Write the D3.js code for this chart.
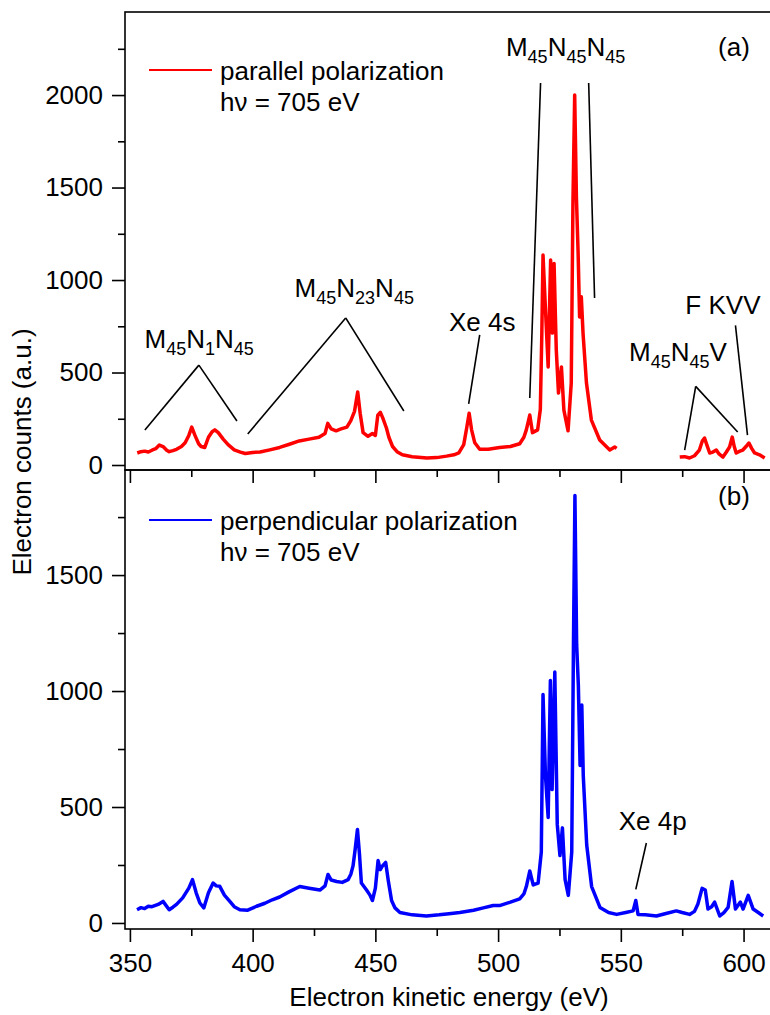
<!DOCTYPE html>
<html>
<head>
<meta charset="utf-8">
<script src="https://cdn.jsdelivr.net/npm/d3@7"></script>
<style>
body { margin: 0; background: #fff; }
svg text { font-family: "Liberation Sans", Arial, sans-serif; fill: #000; }
</style>
</head>
<body>
<svg id="chart" width="770" height="1015"></svg>
<script>
// spectra: energy (eV) and counts
var redE = [353,354.5,356,357.5,359,360.5,362,363.5,365,366,367.5,369,371,372.5,374,375.2,376.5,378,379,380.5,382,383.5,384.6,386,388,390,392.5,395,397,400,403,407,411,415,419,423,427,429.5,430.6,432,434,436,438.4,440,441.5,442.8,443.8,445,447,448.8,450,451,452,453,454.5,455.5,457,459,461,465,471,475,479,482,484,486,487.2,488.2,489.2,490.5,492.5,496,500.6,505,508.8,510.5,511.5,512.9,514,516.1,517.2,517.8,518.3,519.3,520.4,521.4,522.1,522.8,523.7,524.6,525.8,526.8,528.5,529.8,530.5,531.2,531.9,532.6,533.2,533.9,534.6,536,538,541.4,545.5,547.5,548.3];
var redCounts = [65,72,75,70,80,88,108,100,80,72,78,85,100,120,160,205,160,115,100,95,150,180,190,175,140,110,82,70,62,68,70,82,95,112,130,140,150,170,225,195,185,195,205,240,290,395,280,175,155,170,160,270,285,255,200,150,100,70,55,45,38,40,48,55,65,110,200,280,190,120,85,85,95,100,115,150,190,270,175,190,300,700,1135,840,530,1108,713,1090,622,389,530,297,185,443,1430,2000,1450,1145,800,909,713,443,243,135,81,97,90];
var redE2 = [574,576,578,580,582,583.2,584.1,585,586.2,587.5,588.9,590,591.6,593,594.3,595.4,596.2,597,598.5,599.7,601,602.2,603.3,604.5,606.5,608.6];
var redCounts2 = [43,45,38,50,81,130,146,110,65,70,81,60,43,70,97,151,100,65,75,81,100,119,90,65,55,38];

var blueE = [352.9,354.5,356,357.5,359,361.5,363.5,366,367.5,369,371.5,374,375.5,377,378.5,380.1,382,383.9,385.2,386.6,388.5,390.7,392.5,394.8,398,401.6,405,408,411,415,419.2,423,427.4,429.5,430.7,432,434.2,436.5,438.9,440,440.9,441.8,442.7,443.5,444.3,446.4,447.8,448.8,450,451.1,452,452.9,454.2,455.3,456.6,458,460,465,470.8,476,480,484.4,490,494,498,500.6,505,508.8,510.5,511.5,512.9,514.3,516.3,517.6,518.3,519.3,520.4,521.3,522,523.1,524.1,525.2,526.2,527.3,528.6,530,530.7,531.3,532,532.7,533.4,534.1,534.7,536.1,538.1,541.5,545,548.3,552,555,556.1,557,560,564.5,568,572.6,575,578,580,581.4,583.1,584.4,585.5,587,588.2,590.3,592,593.7,595.3,596.7,598.7,599.8,601.9,603.9,606,608];
var blueCounts = [57,66,62,72,70,80,93,57,68,80,108,150,187,130,86,65,130,172,160,158,120,93,70,57,55,72,85,100,112,135,157,150,142,160,209,185,179,175,187,210,246,320,403,300,172,142,120,97,150,269,230,246,261,180,97,65,45,35,30,35,40,45,55,65,75,75,90,104,125,157,224,164,172,306,985,634,455,1045,575,1082,425,291,410,187,119,306,1201,1843,1201,1022,679,940,634,336,157,67,45,37,45,52,97,37,35,30,40,52,45,37,50,82,149,142,60,70,90,30,45,67,179,60,90,60,119,60,45,30];

// axis ticks
var xMajor = [350,400,450,500,550,600];
var xMinor = [375,425,475,525,575];
var yTopMajor = [0,500,1000,1500,2000];
var yTopMinor = [250,750,1250,1750,2250];
var yBotMajor = [0,500,1000,1500];
var yBotMinor = [250,750,1250,1750];

// annotations (label parts alternate normal / subscript)
var topLabels = [
  {parts:["M","45","N","1","N","45"], e:378.2, v:632},
  {parts:["M","45","N","23","N","45"], e:441.4, v:908},
  {parts:["Xe 4s"], e:493.5, v:724},
  {parts:["M","45","N","45","N","45"], e:527.5, v:2210},
  {parts:["F KVV"], e:591.6, v:815},
  {parts:["M","45","N","45","V"], e:573.3, v:560}
];
var topLeaders = [
  [378.1,540,356.1,189],[378.1,540,393.6,238],
  [437.9,795,398,168],[437.9,795,461.6,292],
  [492.5,703,488,330],
  [517.3,2065,512.9,362],[536.9,2065,539.3,903],
  [596.7,755,601.6,162],
  [580.5,425,576,81],[580.5,425,597.6,178]
];
var botLabels = [{parts:["Xe 4p"], e:563, v:400}];
var botLeaders = [[560.4,345,556.1,145]];

var svg = d3.select("#chart");
var left = 125, right = 774;

var x = d3.scaleLinear().domain([348, 612.4]).range([left, right]);

var panels = [
  {top:12, bottom:470, y:d3.scaleLinear().domain([-27,2449]).range([470,12]),
   series:[d3.zip(redE,redCounts), d3.zip(redE2,redCounts2)], color:"#ff0000",
   major:yTopMajor, minor:yTopMinor, labels:topLabels, leaders:topLeaders,
   legend:"parallel polarization", legY:70, tag:"(a)", tagY:56, xLabels:false},
  {top:470, bottom:929, y:d3.scaleLinear().domain([-26,1953]).range([929,470]),
   series:[d3.zip(blueE,blueCounts)], color:"#0000ff",
   major:yBotMajor, minor:yBotMinor, labels:botLabels, leaders:botLeaders,
   legend:"perpendicular polarization", legY:520, tag:"(b)", tagY:505, xLabels:true}
];

var line = function(y){
  return d3.line().x(function(d){ return x(d[0]); }).y(function(d){ return y(d[1]); });
};

panels.forEach(function(p, i){
  var g = svg.append("g");
  var clipId = "clip" + i;
  svg.append("clipPath").attr("id", clipId).append("rect")
    .attr("x", left).attr("y", p.top).attr("width", right-left).attr("height", p.bottom-p.top);

  // spectra
  p.series.forEach(function(s){
    g.append("path").datum(s)
      .attr("clip-path", "url(#"+clipId+")")
      .attr("d", line(p.y))
      .attr("fill", "none")
      .attr("stroke", p.color)
      .attr("stroke-width", 3.5)
      .attr("stroke-linejoin", "round");
  });

  // frame
  g.append("rect").attr("x", left).attr("y", p.top)
    .attr("width", right-left).attr("height", p.bottom-p.top)
    .attr("fill", "none").attr("stroke", "#000").attr("stroke-width", 1.6);

  // y axis
  g.append("g").attr("transform", "translate("+left+",0)")
    .call(d3.axisLeft(p.y).tickValues(p.major).tickSize(13).tickPadding(9).tickFormat(d3.format("d")));
  g.append("g").attr("transform", "translate("+left+",0)")
    .call(d3.axisLeft(p.y).tickValues(p.minor).tickSize(7).tickFormat(""));

  // x axis
  g.append("g").attr("transform", "translate(0,"+p.bottom+")")
    .call(d3.axisBottom(x).tickValues(xMajor).tickSize(13).tickPadding(12)
      .tickFormat(p.xLabels ? d3.format("d") : ""));
  g.append("g").attr("transform", "translate(0,"+p.bottom+")")
    .call(d3.axisBottom(x).tickValues(xMinor).tickSize(7).tickFormat(""));

  g.selectAll(".domain").remove();
  g.selectAll(".tick line").attr("stroke", "#000").attr("stroke-width", 1.6);
  g.selectAll(".tick text").attr("font-size", 26).attr("fill", "#000")
    .attr("font-family", "Liberation Sans, Arial, sans-serif");

  // legend
  g.append("line").attr("x1", 149).attr("x2", 212).attr("y1", p.legY).attr("y2", p.legY)
    .attr("stroke", p.color).attr("stroke-width", 2);
  g.append("text").attr("x", 220).attr("y", p.legY + 10).attr("font-size", 26).text(p.legend);
  g.append("text").attr("x", 220).attr("y", p.legY + 41).attr("font-size", 26).text("h\u03bd = 705 eV");

  g.append("text").attr("x", 734).attr("y", p.tagY).attr("font-size", 26)
    .attr("text-anchor", "middle").text(p.tag);

  // annotations
  g.selectAll(".leader").data(p.leaders).enter().append("line")
    .attr("x1", function(d){ return x(d[0]); }).attr("y1", function(d){ return p.y(d[1]); })
    .attr("x2", function(d){ return x(d[2]); }).attr("y2", function(d){ return p.y(d[3]); })
    .attr("stroke", "#000").attr("stroke-width", 1.6);

  p.labels.forEach(function(l){
    var t = g.append("text").attr("x", x(l.e)).attr("y", p.y(l.v))
      .attr("font-size", 26).attr("text-anchor", "middle");
    l.parts.forEach(function(s, k){
      var ts = t.append("tspan").text(s);
      if (k % 2 == 1) ts.attr("font-size", 18).attr("dy", 7);
      else if (k > 0) ts.attr("dy", -7);
    });
  });
});

// axis titles
svg.append("text").attr("x", 449).attr("y", 1006).attr("font-size", 26)
  .attr("text-anchor", "middle").text("Electron kinetic energy (eV)");
svg.append("text").attr("transform", "translate(31,452) rotate(-90)").attr("font-size", 26)
  .attr("text-anchor", "middle").text("Electron counts (a.u.)");
</script>
</body>
</html>
